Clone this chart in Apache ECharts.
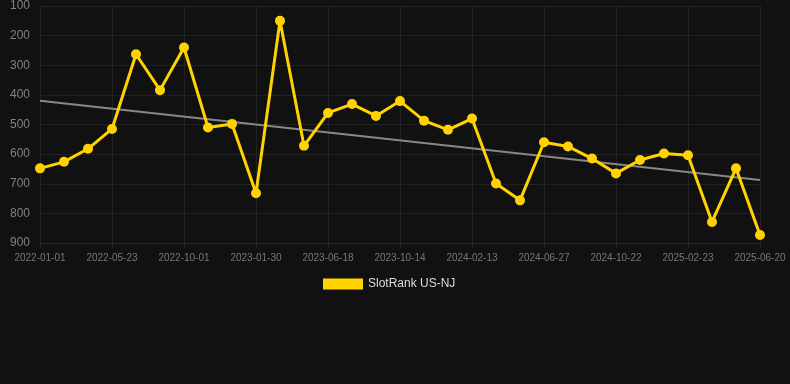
<!DOCTYPE html>
<html>
<head>
<meta charset="utf-8">
<script src="https://cdn.jsdelivr.net/npm/echarts@6/dist/echarts.min.js"></script>
<style>
html,body{margin:0;padding:0;background:#111111;}
#chart{width:790px;height:384px;}
</style>
</head>
<body>
<div id="chart"></div>
<script>
const categories = [
  '2022-01-01','2022-02-17','2022-04-05',
  '2022-05-23','2022-07-05','2022-08-18',
  '2022-10-01','2022-11-10','2022-12-20',
  '2023-01-30','2023-03-17','2023-05-02',
  '2023-06-18','2023-07-27','2023-09-05',
  '2023-10-14','2023-11-24','2024-01-03',
  '2024-02-13','2024-03-29','2024-05-13',
  '2024-06-27','2024-08-05','2024-09-13',
  '2024-10-22','2024-12-03','2025-01-13',
  '2025-02-23','2025-04-03','2025-05-12',
  '2025-06-20'
];
const rankValues = [
  648, 626, 582, 515, 263, 384, 240, 510, 498, 732,
  150, 572, 461, 431, 471, 421, 487, 518, 480, 699,
  756, 560, 574, 615, 665, 620, 598, 604, 829, 648,
  873
];
const trendStart = 420;
const trendEnd = 687;
const yTicks = [100, 900, 100]; // min, max, interval

const trendData = categories.map((c, i) =>
  i === 0 ? trendStart : (i === categories.length - 1 ? trendEnd : null));

const chart = echarts.init(document.getElementById('chart'));
chart.setOption({
  backgroundColor: '#111111',
  animation: false,
  grid: { left: 40, right: 30, top: 6, bottom: 141 },
  legend: {
    data: [{ name: 'SlotRank US-NJ', icon: 'rect' }],
    top: 273,
    left: 318,
    itemWidth: 40,
    itemHeight: 11,
    itemGap: 10,
    textStyle: { color: '#dddddd', fontSize: 12, fontFamily: 'Liberation Sans, Arial, sans-serif' }
  },
  xAxis: {
    type: 'category',
    data: categories,
    boundaryGap: false,
    axisLine: { show: true, lineStyle: { color: '#262626' } },
    axisTick: { show: true, interval: 2, length: 5, lineStyle: { color: '#262626' } },
    axisLabel: {
      interval: 2,
      color: '#777777',
      fontSize: 10,
      margin: 10,
      fontFamily: 'Liberation Sans, Arial, sans-serif'
    },
    splitLine: { show: true, interval: 2, lineStyle: { color: '#222222', width: 1 } }
  },
  yAxis: {
    type: 'value',
    inverse: true,
    min: yTicks[0],
    max: yTicks[1],
    interval: yTicks[2],
    axisLine: { show: false },
    axisTick: { show: false },
    axisLabel: {
      color: '#808080',
      fontSize: 12,
      margin: 10,
      fontFamily: 'Liberation Sans, Arial, sans-serif'
    },
    splitLine: { show: true, lineStyle: { color: '#222222', width: 1 } }
  },
  series: [
    {
      name: 'SlotRank US-NJ',
      type: 'line',
      data: rankValues,
      symbol: 'circle',
      symbolSize: 10,
      itemStyle: { color: '#FFD200' },
      lineStyle: { color: '#FFD200', width: 3 },
      z: 3
    },
    {
      name: 'Trend',
      type: 'line',
      data: trendData,
      connectNulls: true,
      symbol: 'none',
      lineStyle: { color: '#888888', width: 2 },
      itemStyle: { color: '#888888' },
      z: 2,
      silent: true
    }
  ]
});
</script>
</body>
</html>
